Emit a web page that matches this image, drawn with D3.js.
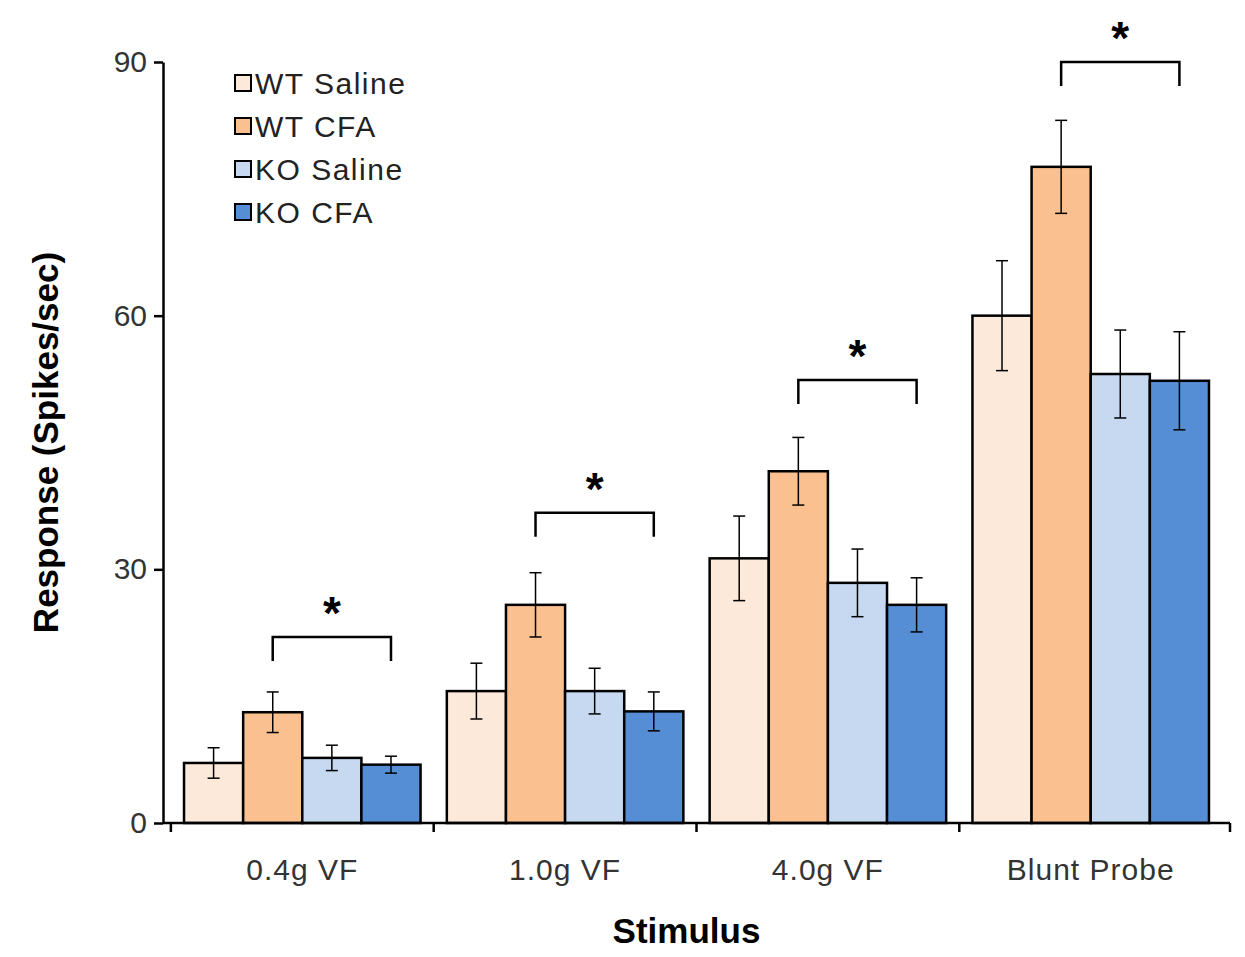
<!DOCTYPE html>
<html><head><meta charset="utf-8">
<script src="https://cdn.jsdelivr.net/npm/d3@7"></script>
<style>body{margin:0;background:#fff}text{font-family:"Liberation Sans",Arial,sans-serif}</style>
</head><body><div id="vis"></div>
<script>
const categories = ["0.4g VF", "1.0g VF", "4.0g VF", "Blunt Probe"];
const series = ["WT Saline", "WT CFA", "KO Saline", "KO CFA"];
const colors = ["#fde9d9", "#fac090", "#c6d9f1", "#558ed5"];
const means = [
	[7.1, 13.1, 7.7, 6.9],
	[15.6, 25.8, 15.6, 13.2],
	[31.3, 41.6, 28.4, 25.8],
	[60.0, 77.6, 53.1, 52.3]
];
const errors = [
	[1.8, 2.4, 1.5, 1.0],
	[3.3, 3.8, 2.7, 2.3],
	[5.0, 4.0, 4.0, 3.2],
	[6.5, 5.5, 5.2, 5.8]
];
const bracketLevels = [22, 36.7, 52.4, 90];
const yTicks = [0, 30, 60, 90];

const W = 1245, H = 957;
const M = { left: 163, right: 15, top: 62, bottom: 134 };
const svg = d3.select("#vis").append("svg").attr("width", W).attr("height", H);

const X0 = d3.scaleBand().domain(categories).range([M.left, W - M.right]).paddingInner(0.1).paddingOuter(0.08);
const X1 = d3.scaleBand().domain(series).range([0, X0.bandwidth()]);
const Y = d3.scaleLinear().domain([0, 90]).range([H - M.bottom, M.top]);

const groups = svg.selectAll(".g").data(categories).enter().append("g")
	.attr("transform", (d) => `translate(${X0(d)},0)`);

groups.each(function (c, i) {
	const g = d3.select(this);
	series.forEach((s, j) => {
		const v = means[i][j], e = errors[i][j];
		const x = X1(s), cx = x + X1.bandwidth() / 2;
		g.append("rect").attr("x", x).attr("y", Y(v)).attr("width", X1.bandwidth())
			.attr("height", Y(0) - Y(v)).attr("fill", colors[j]).attr("stroke", "#000").attr("stroke-width", 2.5);
		g.append("line").attr("x1", cx).attr("x2", cx).attr("y1", Y(v - e)).attr("y2", Y(v + e)).attr("stroke", "#000").attr("stroke-width", 1.5);
		[v - e, v + e].forEach((t) => g.append("line").attr("x1", cx - 6).attr("x2", cx + 6)
			.attr("y1", Y(t)).attr("y2", Y(t)).attr("stroke", "#000").attr("stroke-width", 1.5));
	});
	// significance bracket WT CFA vs KO CFA
	const a = X1("WT CFA") + X1.bandwidth() / 2, b = X1("KO CFA") + X1.bandwidth() / 2;
	const by = Y(bracketLevels[i]);
	g.append("path").attr("d", `M${a},${by + 24}V${by}H${b}V${by + 24}`)
		.attr("fill", "none").attr("stroke", "#000").attr("stroke-width", 2.5);
	g.append("text").attr("x", (a + b) / 2).attr("y", by - 8).attr("text-anchor", "middle")
		.attr("font-size", 46).attr("font-weight", "bold").text("*");
});

// axes
const yAxis = svg.append("g").attr("transform", `translate(${M.left},0)`)
	.call(d3.axisLeft(Y).tickValues(yTicks).tickSize(9).tickSizeOuter(0));
yAxis.selectAll("text").attr("font-size", 30).attr("fill", "#333").attr("dx", -4);
yAxis.selectAll("line,path").attr("stroke", "#000").attr("stroke-width", 2.5);

const xg = svg.append("g").attr("transform", `translate(0,${Y(0)})`);
xg.append("line").attr("x1", M.left).attr("x2", W - M.right).attr("stroke", "#000").attr("stroke-width", 2.5);
const step = X0.step();
const bounds = categories.map((c) => X0(c) - X0.paddingInner() * step / 2).concat([W - M.right]);
xg.selectAll(".t").data(bounds).enter().append("line")
	.attr("x1", (d) => d).attr("x2", (d) => d).attr("y1", 0).attr("y2", 9).attr("stroke", "#000").attr("stroke-width", 2.5);
xg.selectAll(".l").data(categories).enter().append("text")
	.attr("x", (d) => X0(d) + X0.bandwidth() / 2).attr("y", 57).attr("text-anchor", "middle")
	.attr("font-size", 30).attr("letter-spacing", 1).attr("fill", "#333").text((d) => d);

svg.append("text").attr("x", (M.left + W - M.right) / 2 - 10).attr("y", 943).attr("text-anchor", "middle")
	.attr("font-size", 35).attr("font-weight", "bold").text("Stimulus");
svg.append("text").attr("transform", `translate(58,${(M.top + H - M.bottom) / 2}) rotate(-90)`)
	.attr("text-anchor", "middle").attr("font-size", 35).attr("font-weight", "bold").text("Response (Spikes/sec)");

// legend
const lg = svg.append("g").attr("transform", "translate(235,70)");
series.forEach((s, j) => {
	lg.append("rect").attr("x", 0).attr("y", j * 43 + 5).attr("width", 16).attr("height", 16)
		.attr("fill", colors[j]).attr("stroke", "#000").attr("stroke-width", 2);
	lg.append("text").attr("x", 20).attr("y", j * 43 + 24).attr("font-size", 30).attr("letter-spacing", 1.5).attr("fill", "#222").text(s);
});
</script></body></html>
